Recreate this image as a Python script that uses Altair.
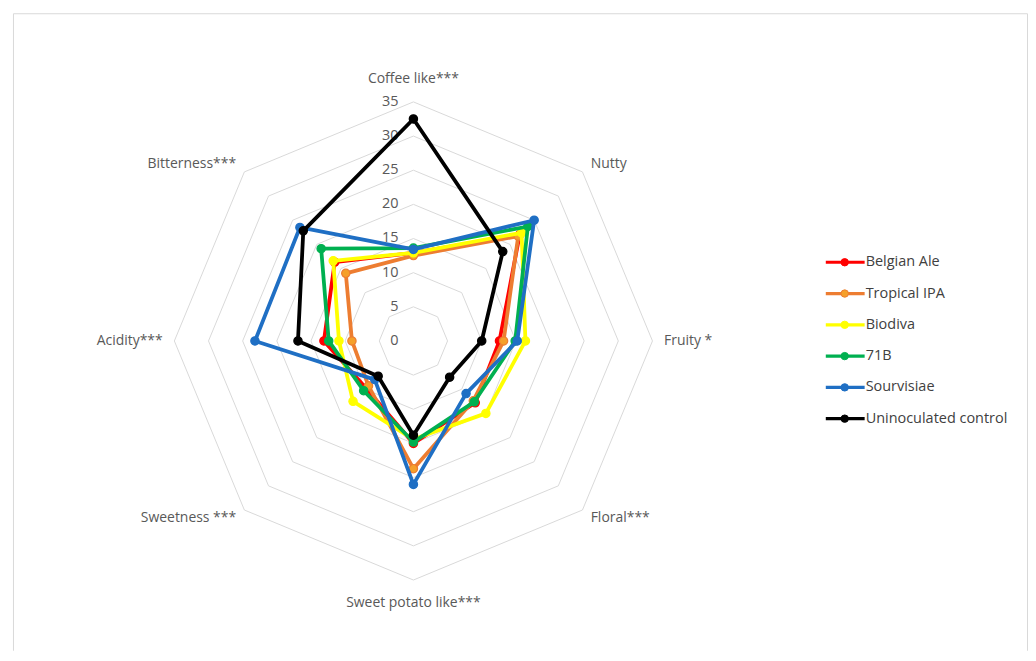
import altair as alt
import pandas as pd

# ---------------- data ----------------
attributes = ["Coffee like***", "Nutty", "Fruity *", "Floral***",
              "Sweet potato like***", "Sweetness ***", "Acidity***", "Bitterness***"]
series = ["Belgian Ale", "Tropical IPA", "Biodiva", "71B", "Sourvisiae", "Uninoculated control"]
legend_labels = ["Belgian Ale", "Tropical IPA", " Biodiva", "71B", "Sourvisiae", "Uninoculated control"]

belgian_ale = [12.9, 22.0, 12.6, 12.8, 15.0, 9.8, 13.1, 16.3]
tropical_ipa = [12.5, 21.7, 13.2, 12.4, 18.7, 9.3, 9.0, 14.0]
biodiva = [12.9, 22.4, 16.4, 15.0, 14.4, 12.5, 10.9, 16.6]
b71 = [13.6, 23.7, 14.9, 12.6, 14.8, 10.3, 12.4, 19.1]
sourvisiae = [13.4, 25.0, 15.2, 10.9, 21.0, 8.0, 23.2, 23.5]
control = [32.5, 18.5, 10.0, 7.5, 13.8, 7.3, 16.9, 22.8]
all_values = [belgian_ale, tropical_ipa, biodiva, b71, sourvisiae, control]

ticks = [0, 5, 10, 15, 20, 25, 30, 35]

line_colors = ["#FF0000", "#ED7D31", "#FFFF00", "#00B050", "#1F6FC4", "#000000"]
marker_fills = ["#FF0000", "#F5A02A", "#FFFF00", "#00B050", "#1F6FC4", "#000000"]

# ---------------- geometry (style) ----------------
W, H = 1019, 636
cx, cy = 402, 329           # centre in plot-area pixels
k = 35 / 240                # data units per pixel
xdom = [-cx * k, (W - cx) * k]
ydom = [-(H - cy) * k, cy * k]
XS = alt.Scale(domain=xdom, nice=False, zero=False)
YS = alt.Scale(domain=ydom, nice=False, zero=False)
FONT = "Open Sans"
GRAY = "#595959"

n = len(attributes)

def polar(chart):
    return chart.transform_calculate(
        px="datum.value * sin(datum.idx * PI / 4)",
        py="datum.value * cos(datum.idx * PI / 4)",
    )

X = alt.X("px:Q", scale=XS, axis=None)
Y = alt.Y("py:Q", scale=YS, axis=None)

# grid rings
grid_rows = []
for r in ticks[1:]:
    for i in range(n + 1):
        grid_rows.append({"ring": r, "idx": i % n, "ord": i, "value": r})
grid_df = pd.DataFrame(grid_rows)
grid = polar(alt.Chart(grid_df)).mark_line(color="#D9D9D9", strokeWidth=1).encode(
    x=X, y=Y, detail="ring:N", order="ord:Q")

# tick labels
tick_df = pd.DataFrame({"value": ticks, "idx": [0] * len(ticks), "lab": [str(t) for t in ticks]})
tick_text = polar(alt.Chart(tick_df)).mark_text(
    align="right", baseline="middle", dx=-15, font=FONT, fontSize=14.5, color=GRAY
).encode(x=X, y=Y, text="lab:N")

# category labels
lab_df = pd.DataFrame({"attribute": attributes, "idx": list(range(n))})
lab_base = alt.Chart(lab_df).transform_calculate(
    lr="abs(cos(datum.idx * PI / 4)) > 0.9 ? 38.4 : 36.7",
    s="sin(datum.idx * PI / 4)",
).transform_calculate(
    px="datum.lr * datum.s",
    py="datum.lr * cos(datum.idx * PI / 4)",
)
lab_layers = []
for cond, al in [("datum.s > 0.1", "left"), ("datum.s < -0.1", "right"), ("abs(datum.s) <= 0.1", "center")]:
    lab_layers.append(
        lab_base.transform_filter(cond).mark_text(
            align=al, baseline="middle", font=FONT, fontSize=14, color=GRAY
        ).encode(x=X, y=Y, text="attribute:N")
    )

# series lines + markers (drawn in legend order, later series on top)
series_layers = []
for s, vals, lc, mf in zip(series, all_values, line_colors, marker_fills):
    rows = []
    for i in range(n + 1):
        rows.append({"series": s, "idx": i % n, "ord": i, "value": vals[i % n]})
    d = pd.DataFrame(rows)
    base = polar(alt.Chart(d))
    series_layers.append(base.mark_line(color=lc, strokeWidth=3.8, strokeJoin="round").encode(
        x=X, y=Y, order="ord:Q"))
    series_layers.append(base.transform_filter("datum.ord < 8").mark_point(
        filled=True, fill=mf, stroke=lc, strokeWidth=1.2, size=70, opacity=1).encode(x=X, y=Y))

# legend
leg_df = pd.DataFrame({"series": series, "label": legend_labels})
LY = alt.Y("series:N", sort=series, axis=None,
           scale=alt.Scale(type="point", domain=series, range=[250, 407], padding=0))
CS = alt.Scale(domain=series, range=line_colors)
FS = alt.Scale(domain=series, range=marker_fills)
leg_line = alt.Chart(leg_df).mark_rule(strokeWidth=3.2).encode(
    x=alt.value(816), x2=alt.value(855), y=LY,
    color=alt.Color("series:N", scale=CS, legend=None))
leg_pt = alt.Chart(leg_df).mark_point(filled=True, size=55, strokeWidth=1, opacity=1).encode(
    x=alt.value(835), y=LY,
    fill=alt.Fill("series:N", scale=FS, legend=None),
    stroke=alt.Stroke("series:N", scale=CS, legend=None))
leg_txt = alt.Chart(leg_df).mark_text(align="left", baseline="middle", font=FONT, fontSize=14.5,
                                      color="#404040").encode(
    x=alt.value(856), y=LY, text="label:N")

# frame (top, left, right)
frame_top = alt.Chart().mark_rule(color="#D9D9D9", strokeWidth=1).encode(
    x=alt.value(0.5), x2=alt.value(W - 0.5), y=alt.value(0.5))
frame_left = alt.Chart().mark_rule(color="#D9D9D9", strokeWidth=1).encode(
    x=alt.value(0.5), y=alt.value(0.5), y2=alt.value(H + 4))
frame_right = alt.Chart().mark_rule(color="#D9D9D9", strokeWidth=1).encode(
    x=alt.value(W - 0.5), y=alt.value(0.5), y2=alt.value(H + 4))

chart = alt.layer(
    frame_top, frame_left, frame_right,
    grid, tick_text, *lab_layers, *series_layers,
    leg_line, leg_pt, leg_txt,
).resolve_scale(y="independent").properties(
    width=W, height=H,
    padding={"left": 5, "top": 4, "right": 0, "bottom": 0},
    background="white",
).configure_view(stroke=None)

chart.save("out.html", embed_options={"renderer": "svg", "actions": False})
